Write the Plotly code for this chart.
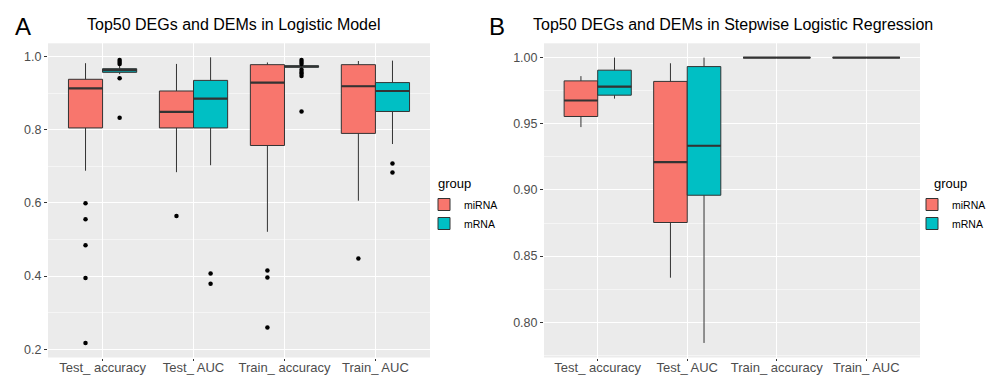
import plotly.graph_objects as go

categories = ["Test_ accuracy", "Test_ AUC", "Train_ accuracy", "Train_ AUC"]
groups = ["miRNA", "mRNA"]
colors = {"miRNA": "#F8766D", "mRNA": "#00BFC4"}

# Panel A: Logistic Model (box statistics per category)
a_mirna_low = [0.688, 0.684, 0.521, 0.606]
a_mirna_q1 = [0.805, 0.805, 0.757, 0.790]
a_mirna_med = [0.913, 0.849, 0.929, 0.919]
a_mirna_q3 = [0.938, 0.906, 0.978, 0.978]
a_mirna_high = [0.982, 0.980, 0.984, 0.988]
a_mirna_out_cat = [0, 0, 0, 0, 0, 1, 2, 2, 2, 3]
a_mirna_out_val = [0.599, 0.555, 0.484, 0.395, 0.217, 0.564, 0.415, 0.396, 0.259, 0.448]

a_mrna_low = [0.952, 0.703, 0.969, 0.761]
a_mrna_q1 = [0.957, 0.805, 0.971, 0.850]
a_mrna_med = [0.963, 0.885, 0.973, 0.906]
a_mrna_q3 = [0.967, 0.935, 0.975, 0.929]
a_mrna_high = [0.975, 0.998, 0.977, 0.989]
a_mrna_out_cat = [0, 0, 0, 0, 0, 1, 1, 2, 2, 2, 2, 2, 2, 2, 2, 3, 3]
a_mrna_out_val = [0.991, 0.985, 0.980, 0.941, 0.833, 0.407, 0.379,
                  0.991, 0.985, 0.980, 0.964, 0.958, 0.953, 0.947, 0.850, 0.708, 0.683]

# Panel B: Stepwise Logistic Regression
b_mirna_low = [0.9475, 0.8337, 1.0, 1.0]
b_mirna_q1 = [0.9555, 0.8754, 1.0, 1.0]
b_mirna_med = [0.9676, 0.9210, 1.0, 1.0]
b_mirna_q3 = [0.9824, 0.9820, 1.0, 1.0]
b_mirna_high = [0.9860, 0.9957, 1.0, 1.0]

b_mrna_low = [0.9690, 0.7844, 1.0, 1.0]
b_mrna_q1 = [0.9716, 0.8960, 1.0, 1.0]
b_mrna_med = [0.9780, 0.9334, 1.0, 1.0]
b_mrna_q3 = [0.9905, 0.9932, 1.0, 1.0]
b_mrna_high = [1.0000, 1.0000, 1.0, 1.0]

title_a = "Top50 DEGs and DEMs in Logistic Model"
title_b = "Top50 DEGs and DEMs in Stepwise Logistic Regression"
legend_title = "group"

DODGE = 0.1875
BOXW = 0.375
FONT = "Liberation Sans, Arial, sans-serif"

fig = go.Figure()


def add_panel(xa, ya, legend, stats, outliers):
    for gi, g in enumerate(groups):
        off = -DODGE if gi == 0 else DODGE
        low, q1, med, q3, high = stats[g]
        pos = [i + 1 + off for i in range(len(categories))]
        fig.add_trace(go.Box(
            x=pos, q1=q1, median=med, q3=q3, lowerfence=low, upperfence=high,
            width=BOXW, whiskerwidth=0, fillcolor=colors[g],
            line=dict(color="#333333", width=1), name=g,
            xaxis=xa, yaxis=ya, legend=legend, showlegend=True,
            boxpoints=False, hoverinfo="skip"))
        # thicker median line (ggplot style)
        mx, my = [], []
        for p, m in zip(pos, med):
            mx += [p - BOXW / 2, p + BOXW / 2, None]
            my += [m, m, None]
        fig.add_trace(go.Scatter(x=mx, y=my, mode="lines",
                                 line=dict(color="#333333", width=2.2),
                                 xaxis=xa, yaxis=ya, showlegend=False, hoverinfo="skip"))
        if outliers and g in outliers:
            cats, vals = outliers[g]
            fig.add_trace(go.Scatter(
                x=[c + 1 + off for c in cats], y=vals, mode="markers",
                marker=dict(color="black", size=4.5),
                xaxis=xa, yaxis=ya, showlegend=False, hoverinfo="skip"))


add_panel("x", "y", "legend",
          {"miRNA": (a_mirna_low, a_mirna_q1, a_mirna_med, a_mirna_q3, a_mirna_high),
           "mRNA": (a_mrna_low, a_mrna_q1, a_mrna_med, a_mrna_q3, a_mrna_high)},
          {"miRNA": (a_mirna_out_cat, a_mirna_out_val),
           "mRNA": (a_mrna_out_cat, a_mrna_out_val)})
add_panel("x2", "y2", "legend2",
          {"miRNA": (b_mirna_low, b_mirna_q1, b_mirna_med, b_mirna_q3, b_mirna_high),
           "mRNA": (b_mrna_low, b_mrna_q1, b_mrna_med, b_mrna_q3, b_mrna_high)},
          None)

W, H = 986, 375
ytop, ybot = 43.3, 357.5
ydom = [1 - ybot / H, 1 - ytop / H]

xcommon = dict(range=[0.4, 4.6], tickvals=[1, 2, 3, 4], ticktext=categories,
               showgrid=True, gridcolor="white", gridwidth=1.1, zeroline=False,
               ticks="outside", ticklen=2, tickcolor="#333333", ticklabelstandoff=-4,
               tickfont=dict(family=FONT, size=13, color="#4D4D4D"), showline=False)
ycommon = dict(showgrid=True, gridcolor="white", gridwidth=1.1, zeroline=False,
               ticks="outside", ticklen=3, tickcolor="#333333",
               tickfont=dict(family=FONT, size=12.5, color="#4D4D4D"), showline=False)

legend_common = dict(xanchor="left", yanchor="top",
                     font=dict(family=FONT, size=10.5, color="black"),
                     bgcolor="rgba(0,0,0,0)", tracegroupgap=0, itemwidth=30)

fig.update_layout(
    width=W, height=H, margin=dict(l=0, r=0, t=0, b=0, autoexpand=False),
    paper_bgcolor="white", plot_bgcolor="#EBEBEB", boxmode="overlay",
    xaxis=dict(domain=[48 / W, 430 / W], anchor="y", **xcommon),
    yaxis=dict(domain=ydom, anchor="x", range=[0.1773, 1.0364],
               tickvals=[0.2, 0.4, 0.6, 0.8, 1.0], tickformat=".1f",
               minor=dict(showgrid=True, gridcolor="#F5F5F5", gridwidth=0.6,
                          tickvals=[0.3, 0.5, 0.7, 0.9], ticks=""),
               **ycommon),
    xaxis2=dict(domain=[544 / W, 920 / W], anchor="y2", **xcommon),
    yaxis2=dict(domain=ydom, anchor="x2", range=[0.7734, 1.0108],
                tickvals=[0.80, 0.85, 0.90, 0.95, 1.00], tickformat=".2f",
                minor=dict(showgrid=True, gridcolor="#F5F5F5", gridwidth=0.6,
                           tickvals=[0.775, 0.825, 0.875, 0.925, 0.975], ticks=""),
                **ycommon),
    legend=dict(x=424 / W, y=1 - 190 / H, **legend_common),
    legend2=dict(x=912 / W, y=1 - 190 / H, **legend_common),
    annotations=[
        dict(text="A", x=23 / W, y=1 - 26 / H, xref="paper", yref="paper",
             showarrow=False, font=dict(family=FONT, size=24, color="black"),
             xanchor="center", yanchor="middle"),
        dict(text=title_a, x=233 / W, y=1 - 25 / H, xref="paper", yref="paper",
             showarrow=False, font=dict(family=FONT, size=16, color="black"),
             xanchor="center", yanchor="middle"),
        dict(text="B", x=497 / W, y=1 - 26 / H, xref="paper", yref="paper",
             showarrow=False, font=dict(family=FONT, size=24, color="black"),
             xanchor="center", yanchor="middle"),
        dict(text=title_b, x=733 / W, y=1 - 25 / H, xref="paper", yref="paper",
             showarrow=False, font=dict(family=FONT, size=16, color="black"),
             xanchor="center", yanchor="middle"),
        dict(text=legend_title, x=436 / W, y=1 - 184 / H, xref="paper", yref="paper",
             showarrow=False, font=dict(family=FONT, size=13, color="black"),
             xanchor="left", yanchor="middle"),
        dict(text=legend_title, x=932 / W, y=1 - 184 / H, xref="paper", yref="paper",
             showarrow=False, font=dict(family=FONT, size=13, color="black"),
             xanchor="left", yanchor="middle"),
    ],
)

fig.write_html("out.html")
